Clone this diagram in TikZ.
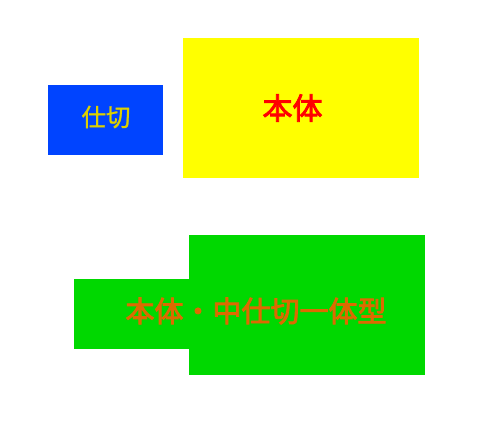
\documentclass[tikz,border=0pt]{standalone}
\usepackage{fontspec}
\newfontfamily\cjk{Noto Sans CJK JP}[BoldFont={Noto Sans CJK JP},BoldFeatures={FakeBold=1}]
\newfontfamily\cjkm{Noto Sans CJK JP}[BoldFont={Noto Sans CJK JP},BoldFeatures={FakeBold=2.8}]
\definecolor{cblue}{HTML}{0044FF}
\definecolor{cyel}{HTML}{FFFF00}
\definecolor{cgreen}{HTML}{00D800}
\definecolor{tyel}{HTML}{DDD000}
\definecolor{tred}{HTML}{FF0000}
\definecolor{torange}{HTML}{DD6A00}
\tikzset{
  box/.style={inner sep=0pt, outer sep=0pt},
  lbl/.style={inner sep=0pt},
}
\begin{document}
\begin{tikzpicture}[x=1pt,y=-1pt]
\useasboundingbox (0,0) rectangle (500,420);
\fill[cblue] (48,85) rectangle (163,155);
\node[box] (partition) at (105.5,120) {};
\fill[cyel] (183,38) rectangle (419,178);
\node[box] (body) at (301,108) {};
\fill[cgreen] (189,235) rectangle (425,375);
\fill[cgreen] (74,279) rectangle (190,349);
\node[box] (integrated) at (256,312) {};
\node[lbl, text=tyel, font=\cjk\bfseries\fontsize{24.5}{24.5}\selectfont] (t1) at (106,117) {仕切};
\node[lbl, text=tred, font=\cjkm\bfseries\fontsize{30}{30}\selectfont] (t2) at (292.5,108) {本体};
\node[lbl, text=torange, font=\cjkm\bfseries\fontsize{29}{29}\selectfont] (t3) at (256,311) {本体・中仕切一体型};
\end{tikzpicture}
\end{document}
